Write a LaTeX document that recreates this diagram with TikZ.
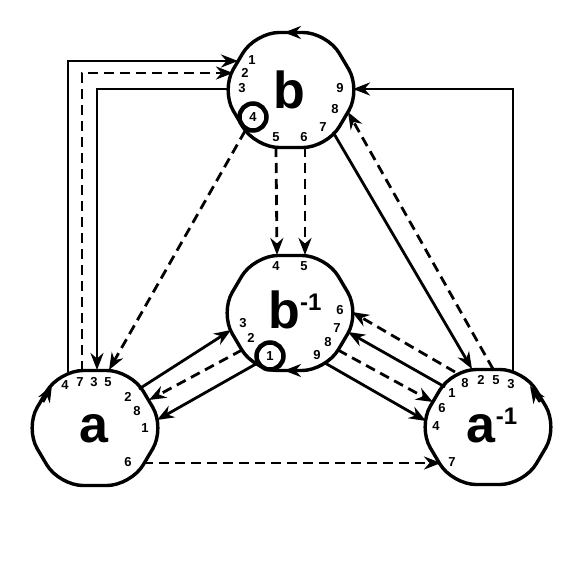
\documentclass[tikz,border=0pt]{standalone}
\usepackage{fontspec}
\setmainfont{Liberation Sans}
\usetikzlibrary{arrows.meta}

\tikzset{
  blob/.style={line width=3.4pt, rounded corners=24pt, line join=round},
  wire/.style={line width=2.8pt},
  dwire/.style={wire, dash pattern=on 10pt off 6pt},
  tip/.style={-{Stealth[length=17pt,width=13pt]}},
  port/.style={font=\fontsize{13}{13}\selectfont\bfseries, inner sep=0pt},
  ring/.style={port, circle, draw, fill=white, line width=4.5pt, minimum size=27pt},
  biglab/.style={font=\fontsize{52}{52}\selectfont\bfseries, inner sep=0pt, anchor=base},
}

\begin{document}
\begin{tikzpicture}[x=1pt,y=-1pt]
    \useasboundingbox (0,0) rectangle (581,581);

    %% centres of the four vertices
    \coordinate (cb) at (291,90);
    \coordinate (cbi) at (290,313);
    \coordinate (ca) at (95,428);
    \coordinate (cai) at (488,427);

    %% outlines
    \foreach \c in {cb,cbi,ca,cai}
      \draw[blob,shift={(\c)}] (0,-57.5) -- (36,-57.5) -- (70,0) -- (36,57.5)
        -- (-36,57.5) -- (-70,0) -- (-36,-57.5) -- (0,-57.5);

    %% orientation marks on the outlines
    \draw[wire,tip] (303,32.5) -- (284,32.5);
    \draw[wire,tip] (303,370.5) -- (284,370.5);
    \draw[wire,tip] (43,402) -- (52,385);
    \draw[wire,tip] (540,402) -- (530,386);

    %% big labels
    \node[biglab] (lblb) at (289,108) {b};
    \node[biglab] (lblbi) at (295,328) {b\raisebox{18pt}{\fontsize{24}{24}\selectfont -1}};
    \node[biglab] (lbla) at (94,442) {a};
    \node[biglab] (lblai) at (492,442) {a\raisebox{18pt}{\fontsize{24}{24}\selectfont -1}};

    %% port numbers
    \foreach \n/\x/\y in {1/252/60, 2/245/73, 3/242/88, 5/276/137, 6/304/137, 7/323/127, 8/335/109, 9/340/88}
      \node[port] (lb\n) at (\x,\y) {\n};
    \foreach \n/\x/\y in {4/276/266, 5/304/266, 3/243/323, 2/251/338, 6/340/310, 7/337/328, 8/328/342, 9/317/355}
      \node[port] (lbi\n) at (\x,\y) {\n};
    \foreach \n/\x/\y in {4/65/385, 7/80/382, 3/94/382, 5/108/382, 2/128/397, 8/137/411, 1/145/428, 6/128/462}
      \node[port] (la\n) at (\x,\y) {\n};
    \foreach \n/\x/\y in {8/465/383, 2/481/380, 5/496/380, 3/511/384, 1/452/393, 6/442/408, 4/436/426, 7/452/462}
      \node[port] (lai\n) at (\x,\y) {\n};

    %% ports on b
    \coordinate (b1) at (238,61);
    \coordinate (b2) at (233,73);
    \coordinate (b3) at (230,89);
    \coordinate (b5) at (276,147);
    \coordinate (b6) at (305,147);
    \coordinate (b7) at (333,132);
    \coordinate (b8) at (348,112);
    \coordinate (b9) at (353,89);
    \node[ring] (b4) at (253,117) {4};

    %% ports on b^{-1}
    \coordinate (bi2) at (242,350);
    \coordinate (bi3) at (231,330);
    \coordinate (bi4) at (277,255);
    \coordinate (bi5) at (305,255);
    \coordinate (bi6) at (352,312);
    \coordinate (bi7) at (348,332);
    \coordinate (bi8) at (338,350);
    \coordinate (bi9) at (325,363);
    \node[ring] (bi1) at (270,356) {1};

    %% ports on a
    \coordinate (a4) at (68,372);
    \coordinate (a7) at (82,371);
    \coordinate (a3) at (97,370);
    \coordinate (a5) at (109,370);
    \coordinate (a2) at (139,389);
    \coordinate (a8) at (149,400);
    \coordinate (a1) at (157,420);
    \coordinate (a6) at (143,463);

    %% ports on a^{-1}
    \coordinate (ai8) at (455,372);
    \coordinate (ai2) at (472,369);
    \coordinate (ai5) at (493,369);
    \coordinate (ai3) at (513,372);
    \coordinate (ai1) at (445,387);
    \coordinate (ai6) at (433,402);
    \coordinate (ai4) at (426,421);
    \coordinate (ai7) at (441,463);

    %% b and a
    \draw[wire,tip] (a4) |- (b1);
    \draw[dwire,tip] (a7) |- (b2);
    \draw[wire,tip] (b3) -| (a3);
    \draw[dwire,tip] (b4) -- (a5);

    %% b to b^{-1}
    \draw[dwire,tip] (b5) -- (bi4);
    \draw[dwire,tip] (b6) -- (bi5);

    %% b and a^{-1}
    \draw[wire,tip] (b7) -- (ai2);
    \draw[dwire,tip] (ai5) -- (b8);
    \draw[wire,tip] (ai3) |- (b9);

    %% b^{-1} and a
    \draw[wire,tip] (a2) -- (bi3);
    \draw[dwire,tip] (bi2) -- (a8);
    \draw[wire,tip] (bi1) -- (a1);

    %% b^{-1} and a^{-1}
    \draw[wire,tip] (ai1) -- (bi7);
    \draw[dwire,tip] (ai8) -- (bi6);
    \draw[dwire,tip] (bi8) -- (ai6);
    \draw[wire,tip] (bi9) -- (ai4);

    %% a to a^{-1}
    \draw[dwire,tip] (a6) -- (ai7);
\end{tikzpicture}
\end{document}
